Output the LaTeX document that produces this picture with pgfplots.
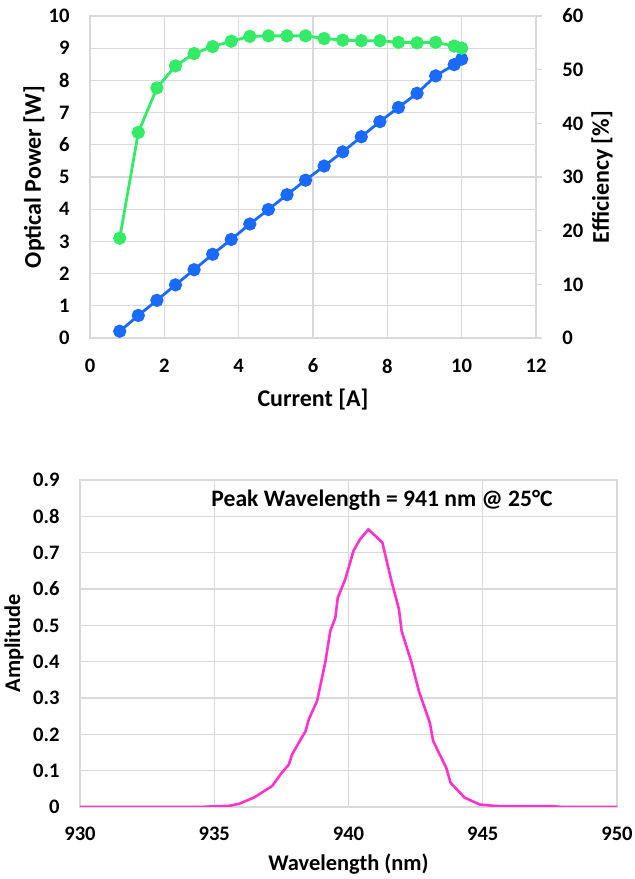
\documentclass[border=0pt]{standalone}
\usepackage{fontspec}
\setmainfont{Carlito}
\usepackage{pgfplots}
\pgfplotsset{compat=1.18}
\definecolor{pwrblue}{RGB}{26,106,255}
\definecolor{effgreen}{RGB}{51,235,102}
\definecolor{specmag}{RGB}{255,51,204}
\definecolor{gridgray}{RGB}{217,217,217}

\pgfplotsset{
  excelstyle/.style={
    scale only axis,
    anchor=south west,
    grid=major,
    grid style={gridgray, line width=0.6pt},
    axis line style={gridgray, line width=0.6pt},
    major tick length=0pt,
    tick label style={font=\bfseries\fontsize{10.3}{11}\selectfont, text=black},
    label style={font=\bfseries\fontsize{12}{13}\selectfont},
    /pgf/number format/assume math mode=true,
  },
}

\begin{document}
\begin{tikzpicture}
\useasboundingbox (0,0) rectangle (317.5pt,439.5pt);

% top: optical power and efficiency vs current
\begin{axis}[excelstyle,
    at={(45pt,270.5pt)}, width=223pt, height=161pt,
    xmin=0, xmax=12, ymin=0, ymax=10,
    xtick={0,2,...,12}, ytick={0,1,...,10},
    xticklabel style={anchor=center, yshift=-14pt},
    yticklabel style={anchor=east, inner sep=0pt, xshift=-10pt},
    xlabel={Current [A]},
    ylabel={Optical Power [W]},
    xlabel style={at={(axis description cs:0.5,-0.1925)}, anchor=center},
    ylabel style={at={(axis description cs:-0.1256,0.5)}, anchor=center},
]
\addplot[pwrblue, line width=1.4pt, mark=*, mark size=2.6pt] coordinates {
(0.8,0.21) (1.3,0.70) (1.8,1.17) (2.3,1.65) (2.8,2.12) (3.3,2.60) (3.8,3.06)
(4.3,3.54) (4.8,3.99) (5.3,4.45) (5.8,4.90) (6.3,5.34) (6.8,5.78) (7.3,6.25)
(7.8,6.72) (8.3,7.16) (8.8,7.60) (9.3,8.14) (9.8,8.49) (10.0,8.66)};
\end{axis}

\begin{axis}[excelstyle,
    at={(45pt,270.5pt)}, width=223pt, height=161pt,
    xmin=0, xmax=12, ymin=0, ymax=60,
    axis x line=none, axis y line*=right, grid=none,
    ytick={0,10,...,60},
    ytick style={gridgray, line width=0.6pt},
    major tick length=3pt, tick align=outside,
    yticklabel style={anchor=west, inner sep=0pt, xshift=10pt},
    ylabel={Efficiency [\%]},
    ylabel style={at={(axis description cs:1.148,0.5)}, anchor=center},
]
\addplot[effgreen, line width=1.4pt, mark=*, mark size=2.6pt] coordinates {
(0.8,18.6) (1.3,38.3) (1.8,46.6) (2.3,50.7) (2.8,53.0) (3.3,54.3) (3.8,55.3)
(4.3,56.2) (4.8,56.3) (5.3,56.3) (5.8,56.3) (6.3,55.8) (6.8,55.5) (7.3,55.4)
(7.8,55.4) (8.3,55.1) (8.8,55.0) (9.3,55.1) (9.8,54.4) (10.0,54.0)};
\end{axis}

% bottom: emission spectrum
\begin{axis}[excelstyle,
    at={(40pt,36pt)}, width=268.5pt, height=163.5pt,
    xmin=930, xmax=950, ymin=0, ymax=0.9,
    xtick={930,935,...,950}, ytick={0,0.1,...,0.9},
    yticklabel style={anchor=east, inner sep=0pt, xshift=-10pt,
      /pgf/number format/fixed, /pgf/number format/precision=1},
    xticklabel style={anchor=center, yshift=-13.5pt},
    label style={font=\bfseries\fontsize{11.2}{12}\selectfont},
    xlabel={Wavelength (nm)},
    ylabel={Amplitude},
    xlabel style={at={(axis description cs:0.5,-0.174)}, anchor=center},
    ylabel style={at={(axis description cs:-0.123,0.5)}, anchor=center},
]
\addplot[specmag, line width=1.3pt] coordinates {
(930,0) (934.5,0) (935.0,0.002) (935.56,0.003) (935.93,0.009) (936.48,0.026)
(937.16,0.058) (937.47,0.09) (937.78,0.117) (937.9,0.145) (938.4,0.209)
(938.52,0.241) (938.83,0.292) (939.14,0.40) (939.32,0.484) (939.51,0.521)
(939.6,0.576) (939.88,0.627) (940.19,0.706) (940.43,0.737) (940.74,0.764)
(941.26,0.728) (941.6,0.622) (941.88,0.544) (941.98,0.484) (942.35,0.397)
(942.62,0.319) (943.03,0.232) (943.15,0.182) (943.64,0.108) (943.8,0.067)
(944.32,0.026) (944.88,0.007) (945.43,0.003) (945.9,0.002) (947.6,0.002)
(948,0) (950,0)};
\node[font=\bfseries\fontsize{11.8}{13}\selectfont] at (axis cs:941.25,0.845)
  {Peak Wavelength = 941 nm @ 25°C};
\end{axis}
\end{tikzpicture}
\end{document}
